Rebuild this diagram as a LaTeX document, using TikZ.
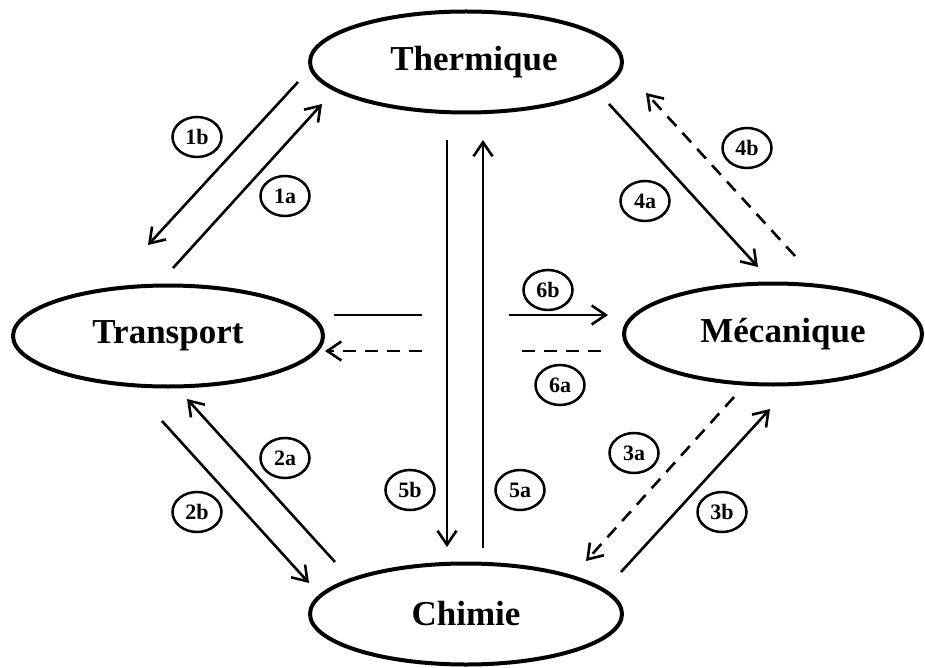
\documentclass[tikz,border=0pt]{standalone}
\usepackage{fontspec}
\setmainfont{Liberation Serif}
\usetikzlibrary{shapes.geometric,arrows.meta}

\tikzset{
  energybox/.style={ellipse, draw, line width=4pt, inner sep=0pt,
    minimum height=101pt, font=\fontsize{35}{40}\selectfont\bfseries},
  tagbox/.style={ellipse, draw, line width=2.5pt, inner sep=0pt,
    minimum width=49pt, minimum height=40pt,
    font=\fontsize{22}{26}\selectfont\bfseries},
  flow/.style={line width=2.6pt, -{Straight Barb[length=14pt,width=19pt,line width=2.6pt]}},
  plainline/.style={line width=2.6pt},
  dashline/.style={dash pattern=on 13pt off 9pt}
}

\begin{document}
\begin{tikzpicture}[x=1pt,y=-1pt]
\useasboundingbox (0,0) rectangle (925,668);

% energy domains
\node[energybox, minimum width=312pt] (th) at (466,62)  {\hspace{16pt}Thermique};
\node[energybox, minimum width=310pt] (tr) at (168,336) {Transport\hspace{30pt}};
\node[energybox, minimum width=298pt] (me) at (773,334) {\hspace{20pt}Mécanique};
\node[energybox, minimum width=312pt] (ch) at (466,614) {Chimie};

% arrow end points
\coordinate (a1bS) at (298,82);  \coordinate (a1bE) at (148,245);
\coordinate (a1aS) at (173,268); \coordinate (a1aE) at (322,104);
\coordinate (a4aS) at (609,104); \coordinate (a4aE) at (758,267);
\coordinate (a4bS) at (795,256); \coordinate (a4bE) at (646,93);
\coordinate (a3aS) at (734,397); \coordinate (a3aE) at (586,561);
\coordinate (a3bS) at (621,572); \coordinate (a3bE) at (770,409);
\coordinate (a2aS) at (335,562); \coordinate (a2aE) at (187,399);
\coordinate (a2bS) at (162,421); \coordinate (a2bE) at (309,583);
\coordinate (a5bS) at (447,140); \coordinate (a5bE) at (447,547);
\coordinate (a5aS) at (483,548); \coordinate (a5aE) at (483,140);
\coordinate (h1S) at (334,315); \coordinate (h1E) at (422,315);
\coordinate (h2S) at (422,351); \coordinate (h2E) at (325,351);
\coordinate (h3S) at (509,315); \coordinate (h3E) at (608,315);
\coordinate (h4S) at (522,351); \coordinate (h4E) at (605,351);

% transfers
\draw[flow] (a1bS) -- (a1bE);
\draw[flow] (a1aS) -- (a1aE);
\draw[flow] (a4aS) -- (a4aE);
\draw[flow,dashline] (a4bS) -- (a4bE);
\draw[flow,dashline] (a3aS) -- (a3aE);
\draw[flow] (a3bS) -- (a3bE);
\draw[flow] (a2aS) -- (a2aE);
\draw[flow] (a2bS) -- (a2bE);
\draw[flow] (a5bS) -- (a5bE);
\draw[flow] (a5aS) -- (a5aE);
\draw[plainline] (h1S) -- (h1E);
\draw[flow,dashline] (h2S) -- (h2E);
\draw[flow] (h3S) -- (h3E);
\draw[plainline,dashline] (h4S) -- (h4E);

% transfer tags
\node[tagbox] (t1b) at (197,137) {1b};
\node[tagbox] (t1a) at (285,196) {1a};
\node[tagbox] (t4b) at (747,148) {4b};
\node[tagbox] (t4a) at (645,201) {4a};
\node[tagbox] (t3a) at (634,453) {3a};
\node[tagbox] (t3b) at (722,512) {3b};
\node[tagbox] (t6b) at (548,290) {6b};
\node[tagbox] (t6a) at (560,385) {6a};
\node[tagbox] (t2a) at (285,458) {2a};
\node[tagbox] (t2b) at (197,512) {2b};
\node[tagbox] (t5b) at (410,490) {5b};
\node[tagbox] (t5a) at (520,490) {5a};
\end{tikzpicture}
\end{document}
